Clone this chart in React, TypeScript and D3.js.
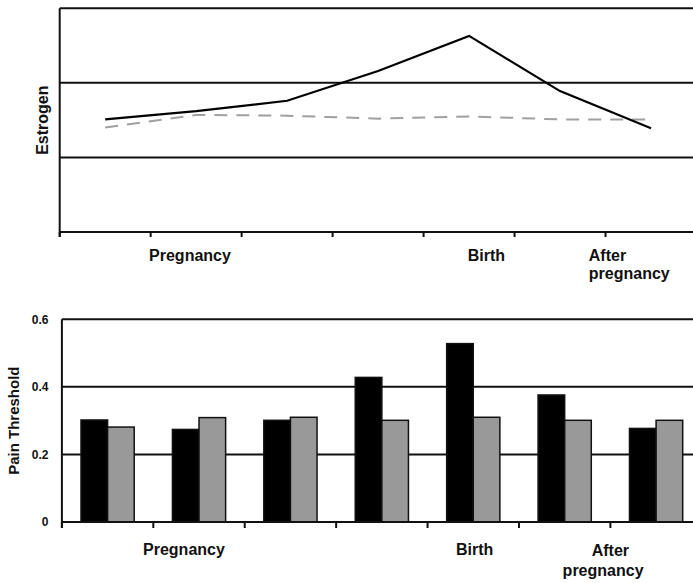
import React from "react";
import * as d3 from "d3";

// ---- data ----
const stages = ["T1", "T2", "T3", "T4", "T5", "T6", "T7"];
const estrogenSolid = [1.51, 1.62, 1.76, 2.16, 2.63, 1.89, 1.39];
const estrogenDashed = [1.4, 1.57, 1.56, 1.52, 1.55, 1.51, 1.51];
const estrogenGrid = [1, 2, 3];
const painBlack = [0.302, 0.274, 0.301, 0.428, 0.528, 0.376, 0.277];
const painGray = [0.281, 0.309, 0.31, 0.301, 0.31, 0.301, 0.301];
const painTicks = [0, 0.2, 0.4, 0.6];
const painTickLabels = ["0", "0.2", "0.4", "0.6"];
const periodLabels = ["Pregnancy", "Birth", "After", "pregnancy"];

const FONT = "'Liberation Sans', Arial, Helvetica, sans-serif";

export default function App() {
  // top chart layout
  const tL = 59.7, tR = 696.5, tT = 8.3, tB = 232;
  const xT = d3.scaleBand().domain(stages).range([tL, tR]).padding(0);
  const yT = d3.scaleLinear().domain([0, 3]).range([tB, tT]);
  const cT = (i: number) => (xT(stages[i]) as number) + xT.bandwidth() / 2;
  const lineGen = d3
    .line<number>()
    .x((_, i) => cT(i))
    .y((d) => yT(d));

  // bottom chart layout
  const bL = 61.9, bR = 701.8, bT = 319.3, bB = 522;
  const xB = d3.scaleBand().domain(stages).range([bL, bR]).padding(0);
  const yB = d3.scaleLinear().domain([0, 0.6]).range([bB, bT]);
  const groupW = xB.bandwidth() * 0.582;
  const x1 = d3
    .scaleBand()
    .domain(["black", "gray"])
    .range([(xB.bandwidth() - groupW) / 2, (xB.bandwidth() + groupW) / 2])
    .padding(0);

  const axisColor = "#111";
  const topTicks = stages.map((s) => xT(s) as number);
  const botTicks = stages.map((s) => xB(s) as number);

  return (
    <svg
      width={693}
      height={583}
      style={{ position: "absolute", left: 0, top: 0, background: "#fff" }}
      fontFamily={FONT}
    >
      {/* ===== Top chart ===== */}
      {estrogenGrid.map((g) => (
        <line key={"tg" + g} x1={tL} x2={tR} y1={yT(g)} y2={yT(g)} stroke={axisColor} strokeWidth={2} />
      ))}
      <line x1={tL} x2={tR} y1={tB} y2={tB} stroke={axisColor} strokeWidth={2} />
      <line x1={tL} x2={tL} y1={tT} y2={tB + 5} stroke={axisColor} strokeWidth={2} />
      {topTicks.map((t, i) => (
        <line key={"tt" + i} x1={t} x2={t} y1={tB} y2={tB + 5} stroke={axisColor} strokeWidth={2} />
      ))}
      <path d={lineGen(estrogenDashed) || ""} fill="none" stroke="#a0a0a0" strokeWidth={2} strokeDasharray="13,9" />
      <path d={lineGen(estrogenSolid) || ""} fill="none" stroke="#000" strokeWidth={2.2} strokeLinejoin="miter" />
      <text
        transform={`translate(48,${(tT + tB) / 2}) rotate(-90)`}
        textAnchor="middle"
        fontSize={16}
        fontWeight="bold"
        fill="#111"
      >
        Estrogen
      </text>
      <text x={tL + xT.bandwidth() * 1.432} y={261} textAnchor="middle" fontSize={16} fontWeight="bold" fill="#111">
        {periodLabels[0]}
      </text>
      <text x={tL + xT.bandwidth() * 4.69} y={261} textAnchor="middle" fontSize={16} fontWeight="bold" fill="#111">
        {periodLabels[1]}
      </text>
      <text x={tL + xT.bandwidth() * 5.816} y={261} textAnchor="start" fontSize={16} fontWeight="bold" fill="#111">
        {periodLabels[2]}
      </text>
      <text x={tL + xT.bandwidth() * 5.816} y={279} textAnchor="start" fontSize={16} fontWeight="bold" fill="#111">
        {periodLabels[3]}
      </text>

      {/* ===== Bottom chart ===== */}
      {painTicks.slice(1).map((t) => (
        <line key={"bg" + t} x1={bL} x2={bR} y1={yB(t)} y2={yB(t)} stroke={axisColor} strokeWidth={2} />
      ))}
      {stages.map((s, i) => (
        <g key={"bar" + s} transform={`translate(${xB(s)},0)`}>
          <rect
            x={x1("black")}
            y={yB(painBlack[i])}
            width={x1.bandwidth()}
            height={bB - yB(painBlack[i])}
            fill="#000"
            stroke="#111"
            strokeWidth={1.5}
          />
          <rect
            x={x1("gray")}
            y={yB(painGray[i])}
            width={x1.bandwidth()}
            height={bB - yB(painGray[i])}
            fill="#999"
            stroke="#111"
            strokeWidth={1.5}
          />
        </g>
      ))}
      <line x1={bL} x2={bR} y1={bB} y2={bB} stroke={axisColor} strokeWidth={2} />
      <line x1={bL} x2={bL} y1={bT} y2={bB + 6} stroke={axisColor} strokeWidth={2} />
      {botTicks.map((t, i) => (
        <line key={"bt" + i} x1={t} x2={t} y1={bB} y2={bB + 6} stroke={axisColor} strokeWidth={2} />
      ))}
      {painTicks.map((t, i) => (
        <text key={"bl" + t} x={48.5} y={yB(t) + 4.3} textAnchor="end" fontSize={12} fontWeight="bold" fill="#111">
          {painTickLabels[i]}
        </text>
      ))}
      <text
        transform={`translate(18.5,${(bT + bB) / 2}) rotate(-90)`}
        textAnchor="middle"
        fontSize={15}
        fontWeight="bold"
        fill="#111"
      >
        Pain Threshold
      </text>
      <text x={bL + xB.bandwidth() * 1.335} y={555} textAnchor="middle" fontSize={16} fontWeight="bold" fill="#111">
        {periodLabels[0]}
      </text>
      <text x={bL + xB.bandwidth() * 4.516} y={555} textAnchor="middle" fontSize={16} fontWeight="bold" fill="#111">
        {periodLabels[1]}
      </text>
      <text x={bL + xB.bandwidth() * 6.0} y={556} textAnchor="middle" fontSize={16} fontWeight="bold" fill="#111">
        {periodLabels[2]}
      </text>
      <text x={bL + xB.bandwidth() * 5.92} y={576} textAnchor="middle" fontSize={16} fontWeight="bold" fill="#111">
        {periodLabels[3]}
      </text>
    </svg>
  );
}
